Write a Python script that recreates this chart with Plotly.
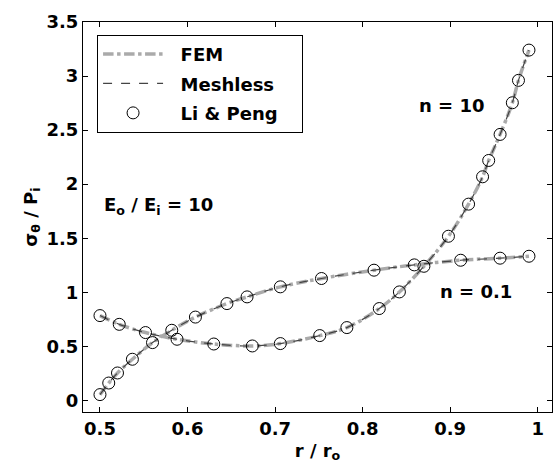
import plotly.graph_objects as go

# Li & Peng reference solution, n = 0.1
r_n01 = [0.500, 0.510, 0.520, 0.537, 0.560, 0.582, 0.609, 0.645, 0.668, 0.706,
         0.753, 0.813, 0.859, 0.912, 0.957, 0.990]
s_n01 = [0.053, 0.160, 0.253, 0.380, 0.534, 0.648, 0.770, 0.895, 0.957, 1.050,
         1.127, 1.204, 1.253, 1.296, 1.315, 1.333]

# Li & Peng reference solution, n = 10
r_n10 = [0.500, 0.522, 0.552, 0.588, 0.630, 0.674, 0.706, 0.751, 0.782, 0.819,
         0.842, 0.870, 0.898, 0.921, 0.937, 0.944, 0.957, 0.971, 0.978, 0.990]
s_n10 = [0.784, 0.703, 0.627, 0.565, 0.521, 0.503, 0.525, 0.599, 0.673, 0.849,
         1.003, 1.240, 1.518, 1.815, 2.068, 2.219, 2.460, 2.753, 2.960, 3.240]

x_ticks = [0.5, 0.6, 0.7, 0.8, 0.9, 1.0]
x_labels = ["0.5", "0.6", "0.7", "0.8", "0.9", "1"]
y_ticks = [0, 0.5, 1, 1.5, 2, 2.5, 3, 3.5]
y_labels = ["0", "0.5", "1", "1.5", "2", "2.5", "3", "3.5"]

FONT = "DejaVu Sans, sans-serif"
bold = dict(family=FONT, size=18, color="black", weight="bold")


def b(t):
    return "<b>" + t + "</b>"


def legend_label(t):
    # pad legend entries so the box keeps some room around the text
    return "&nbsp;&nbsp;" + b(t) + "&nbsp;&nbsp;&nbsp;"


fig = go.Figure()

curves = [(r_n01, s_n01), (r_n10, s_n10)]

for i, (r, s) in enumerate(curves):
    fig.add_trace(go.Scatter(
        x=r, y=s, mode="lines", name=legend_label("FEM"), legendgroup="fem",
        showlegend=(i == 0), line=dict(color="#aaaaaa", width=3.5, dash="dashdot", shape="spline"),
    ))
for i, (r, s) in enumerate(curves):
    fig.add_trace(go.Scatter(
        x=r, y=s, mode="lines", name=legend_label("Meshless"), legendgroup="mesh",
        showlegend=(i == 0), line=dict(color="#444444", width=1.2, dash="dash", shape="spline"),
    ))
for i, (r, s) in enumerate(curves):
    fig.add_trace(go.Scatter(
        x=r, y=s, mode="markers", name=legend_label("Li &amp; Peng"), legendgroup="lp",
        showlegend=(i == 0),
        marker=dict(symbol="circle-open", size=12, color="black", line=dict(width=1)),
    ))

axis_common = dict(
    showgrid=False, zeroline=False, showline=True, linecolor="black", linewidth=1,
    mirror="ticks", ticks="inside", ticklen=5, tickcolor="black",
    tickfont=bold,
)

fig.update_xaxes(range=[0.4806, 1.0163], tickvals=x_ticks, ticktext=[b(t) for t in x_labels],
                 title=dict(text=b("r / r<sub>o</sub>"), font=bold, standoff=6), **axis_common)
fig.update_yaxes(range=[-0.108, 3.5], tickvals=y_ticks, ticktext=[b(t) for t in y_labels],
                 title=dict(text=b("σ<sub>θ</sub> / P<sub>i</sub>"), font=bold, standoff=4), **axis_common)

fig.add_annotation(x=0.502, y=1.8, xref="x", yref="y", xanchor="left", yanchor="middle",
                   text=b("E<sub>o</sub> / E<sub>i</sub> = 10"), showarrow=False, font=bold)
fig.add_annotation(x=0.902, y=2.73, xref="x", yref="y", xanchor="center", yanchor="middle",
                   text=b("n = 10"), showarrow=False, font=bold)
fig.add_annotation(x=0.93, y=1.01, xref="x", yref="y", xanchor="center", yanchor="middle",
                   text=b("n = 0.1"), showarrow=False, font=bold)

fig.update_layout(
    width=555, height=470,
    margin=dict(l=83, r=3, t=22, b=58),
    paper_bgcolor="white", plot_bgcolor="white",
    font=dict(family=FONT, color="black"),
    legend=dict(x=0.03, y=0.967, xanchor="left", yanchor="top",
                bgcolor="white", bordercolor="black", borderwidth=1,
                font=bold, tracegroupgap=3, itemwidth=60),
)

fig.write_html("out.html")
